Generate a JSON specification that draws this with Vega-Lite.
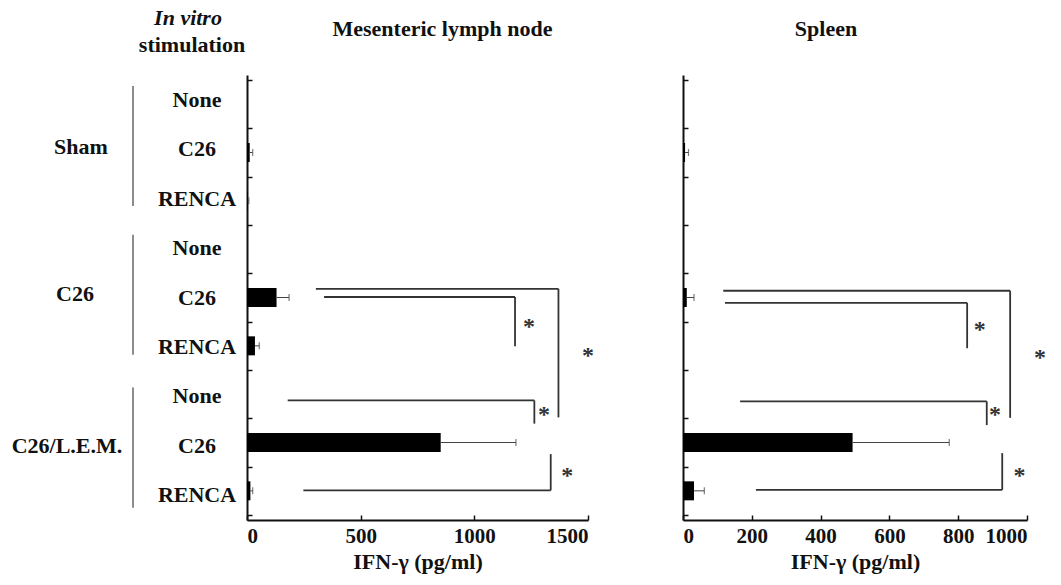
{
  "$schema": "https://vega.github.io/schema/vega-lite/v6.json",
  "padding": {"left": 0, "top": 7, "right": 5, "bottom": 5},
  "background": "white",
  "spacing": 95,
  "bounds": "flush",
  "config": {
    "view": {"stroke": null},
    "font": "Liberation Serif",
    "axis": {
      "domainColor": "#111", "domainWidth": 2, "tickColor": "#111", "tickWidth": 1.5, "tickSize": -5,
      "grid": false, "labelFont": "Liberation Serif", "labelFontWeight": "bold", "labelFontSize": 21,
      "labelColor": "#111", "titleFont": "Liberation Serif", "titleFontWeight": "bold", "titleFontSize": 22, "titleColor": "#111"
    }
  },
  "datasets": {
    "labels": [
      {"kind": "head_i", "label": "In vitro", "pos": 188, "row": -1.15},
      {"kind": "head", "label": "stimulation", "pos": 192, "row": -0.6},
      {"kind": "group", "label": "Sham", "pos": 81, "row": 1.45},
      {"kind": "group", "label": "C26", "pos": 75, "row": 4.42},
      {"kind": "group", "label": "C26/L.E.M.", "pos": 67, "row": 7.5},
      {"kind": "stim", "label": "None", "pos": 197, "row": 0.5},
      {"kind": "stim", "label": "C26", "pos": 197, "row": 1.5},
      {"kind": "stim", "label": "RENCA", "pos": 197, "row": 2.5},
      {"kind": "stim", "label": "None", "pos": 197, "row": 3.5},
      {"kind": "stim", "label": "C26", "pos": 197, "row": 4.5},
      {"kind": "stim", "label": "RENCA", "pos": 197, "row": 5.5},
      {"kind": "stim", "label": "None", "pos": 197, "row": 6.5},
      {"kind": "stim", "label": "C26", "pos": 197, "row": 7.5},
      {"kind": "stim", "label": "RENCA", "pos": 197, "row": 8.5}
    ],
    "dividers": [
      {"group": "Sham", "pos": 133, "row": 0.22, "row2": 2.65},
      {"group": "C26", "pos": 133, "row": 3.23, "row2": 5.66},
      {"group": "C26/L.E.M.", "pos": 133, "row": 6.32, "row2": 8.75}
    ],
    "bars": [
      {"organ": "MLN", "group": "Sham", "stim": "None", "y": 0.5, "value": 0, "err": 0},
      {"organ": "MLN", "group": "Sham", "stim": "C26", "y": 1.5, "value": 12, "err": 25},
      {"organ": "MLN", "group": "Sham", "stim": "RENCA", "y": 2.5, "value": 3, "err": 8},
      {"organ": "MLN", "group": "C26", "stim": "None", "y": 3.5, "value": 0, "err": 0},
      {"organ": "MLN", "group": "C26", "stim": "C26", "y": 4.5, "value": 130, "err": 185},
      {"organ": "MLN", "group": "C26", "stim": "RENCA", "y": 5.5, "value": 35, "err": 54},
      {"organ": "MLN", "group": "C26/L.E.M.", "stim": "None", "y": 6.5, "value": 0, "err": 0},
      {"organ": "MLN", "group": "C26/L.E.M.", "stim": "C26", "y": 7.5, "value": 852, "err": 1183},
      {"organ": "MLN", "group": "C26/L.E.M.", "stim": "RENCA", "y": 8.5, "value": 15, "err": 25},
      {"organ": "Spleen", "group": "Sham", "stim": "None", "y": 0.5, "value": 0, "err": 0},
      {"organ": "Spleen", "group": "Sham", "stim": "C26", "y": 1.5, "value": 6, "err": 16},
      {"organ": "Spleen", "group": "Sham", "stim": "RENCA", "y": 2.5, "value": 0, "err": 0},
      {"organ": "Spleen", "group": "C26", "stim": "None", "y": 3.5, "value": 0, "err": 0},
      {"organ": "Spleen", "group": "C26", "stim": "C26", "y": 4.5, "value": 11, "err": 32},
      {"organ": "Spleen", "group": "C26", "stim": "RENCA", "y": 5.5, "value": 0, "err": 0},
      {"organ": "Spleen", "group": "C26/L.E.M.", "stim": "None", "y": 6.5, "value": 0, "err": 0},
      {"organ": "Spleen", "group": "C26/L.E.M.", "stim": "C26", "y": 7.5, "value": 493, "err": 774},
      {"organ": "Spleen", "group": "C26/L.E.M.", "stim": "RENCA", "y": 8.5, "value": 32, "err": 62}
    ],
    "brackets": [
      {"organ": "MLN", "x": 303, "x2": 1370, "y": 4.32, "y2": 4.32},
      {"organ": "MLN", "x": 1370, "x2": 1370, "y": 4.32, "y2": 6.98},
      {"organ": "MLN", "x": 339, "x2": 1179, "y": 4.49, "y2": 4.49},
      {"organ": "MLN", "x": 1179, "x2": 1179, "y": 4.49, "y2": 5.51},
      {"organ": "MLN", "x": 179, "x2": 1264, "y": 6.63, "y2": 6.63},
      {"organ": "MLN", "x": 1264, "x2": 1264, "y": 6.63, "y2": 7.11},
      {"organ": "MLN", "x": 1336, "x2": 1336, "y": 7.74, "y2": 8.49},
      {"organ": "MLN", "x": 248, "x2": 1336, "y": 8.49, "y2": 8.49},
      {"organ": "Spleen", "x": 117, "x2": 951, "y": 4.36, "y2": 4.36},
      {"organ": "Spleen", "x": 951, "x2": 951, "y": 4.36, "y2": 6.99},
      {"organ": "Spleen", "x": 122, "x2": 826, "y": 4.61, "y2": 4.61},
      {"organ": "Spleen", "x": 826, "x2": 826, "y": 4.61, "y2": 5.55},
      {"organ": "Spleen", "x": 166, "x2": 883, "y": 6.65, "y2": 6.65},
      {"organ": "Spleen", "x": 883, "x2": 883, "y": 6.65, "y2": 7.14},
      {"organ": "Spleen", "x": 928, "x2": 928, "y": 7.72, "y2": 8.48},
      {"organ": "Spleen", "x": 212, "x2": 928, "y": 8.48, "y2": 8.48}
    ],
    "stars": [
      {"organ": "MLN", "x": 1500, "y": 5.62, "label": "*"},
      {"organ": "MLN", "x": 1241, "y": 5.03, "label": "*"},
      {"organ": "MLN", "x": 1307, "y": 6.84, "label": "*"},
      {"organ": "MLN", "x": 1409, "y": 8.1, "label": "*"},
      {"organ": "Spleen", "x": 1038, "y": 5.67, "label": "*"},
      {"organ": "Spleen", "x": 863, "y": 5.08, "label": "*"},
      {"organ": "Spleen", "x": 907, "y": 6.85, "label": "*"},
      {"organ": "Spleen", "x": 978, "y": 8.11, "label": "*"}
    ]
  },
  "hconcat": [
    {
      "width": 152,
      "height": 445,
      "layer": [
        {
          "data": {"name": "labels"},
          "transform": [{"filter": "datum.kind !== 'head_i'"}],
          "mark": {"type": "text", "font": "Liberation Serif", "fontWeight": "bold", "fontSize": 22, "align": "center", "baseline": "middle", "color": "#111"},
          "encoding": {
            "x": {"field": "pos", "type": "quantitative", "scale": {"domain": [0, 152], "nice": false, "zero": false}, "axis": null},
            "y": {"field": "row", "type": "quantitative", "scale": {"domain": [0, 9], "reverse": true, "nice": false, "zero": false}, "axis": null},
            "text": {"field": "label"}
          }
        },
        {
          "data": {"name": "labels"},
          "transform": [{"filter": "datum.kind === 'head_i'"}],
          "mark": {"type": "text", "font": "Liberation Serif", "fontWeight": "bold", "fontStyle": "italic", "fontSize": 22, "align": "center", "baseline": "middle", "color": "#111"},
          "encoding": {
            "x": {"field": "pos", "type": "quantitative"},
            "y": {"field": "row", "type": "quantitative"},
            "text": {"field": "label"}
          }
        },
        {
          "data": {"name": "dividers"},
          "mark": {"type": "rule", "color": "#666", "strokeWidth": 1.5},
          "encoding": {
            "x": {"field": "pos", "type": "quantitative"},
            "y": {"field": "row", "type": "quantitative"},
            "y2": {"field": "row2"}
          }
        }
      ]
    },
    {
      "width": 341,
      "height": 445,
      "title": {"text": "Mesenteric lymph node", "font": "Liberation Serif", "fontSize": 22, "fontWeight": "bold", "anchor": "middle", "frame": "group", "dx": 25, "offset": 12, "baseline": "bottom", "color": "#111"},
      "layer": [
        {
          "data": {"name": "bars"},
          "transform": [{"filter": "datum.organ === 'MLN'"}],
          "mark": {"type": "bar", "orient": "horizontal", "size": 19, "color": "#000"},
          "encoding": {
            "x": {"field": "value", "type": "quantitative", "scale": {"domain": [0, 1500], "nice": false}, "axis": {"values": [0, 500, 1000, 1500], "format": "d", "title": "IFN-γ (pg/ml)", "labelPadding": 10, "titlePadding": 5}},
            "y": {"field": "y", "type": "quantitative", "scale": {"domain": [0, 9], "reverse": true, "nice": false, "zero": false}, "axis": {"values": [0, 1, 2, 3, 4, 5, 6, 7, 8, 9], "labels": false, "title": null}}
          }
        },
        {
          "data": {"name": "bars"},
          "transform": [{"filter": "datum.organ === 'MLN' && datum.err > datum.value"}],
          "mark": {"type": "rule", "color": "#444", "strokeWidth": 1},
          "encoding": {
            "x": {"field": "value", "type": "quantitative"},
            "x2": {"field": "err"},
            "y": {"field": "y", "type": "quantitative"}
          }
        },
        {
          "data": {"name": "bars"},
          "transform": [{"filter": "datum.organ === 'MLN' && datum.err > datum.value"}],
          "mark": {"type": "tick", "orient": "vertical", "size": 7, "thickness": 1.2, "color": "#444"},
          "encoding": {
            "x": {"field": "err", "type": "quantitative"},
            "y": {"field": "y", "type": "quantitative"}
          }
        },
        {
          "data": {"name": "brackets"},
          "transform": [{"filter": "datum.organ === 'MLN'"}],
          "mark": {"type": "rule", "color": "#333", "strokeWidth": 1.8},
          "encoding": {
            "x": {"field": "x", "type": "quantitative"},
            "x2": {"field": "x2"},
            "y": {"field": "y", "type": "quantitative"},
            "y2": {"field": "y2"}
          }
        },
        {
          "data": {"name": "stars"},
          "transform": [{"filter": "datum.organ === 'MLN'"}],
          "mark": {"type": "text", "font": "Liberation Serif", "fontSize": 24, "fontWeight": "bold", "align": "center", "baseline": "middle", "dy": 4, "color": "#333"},
          "encoding": {
            "x": {"field": "x", "type": "quantitative"},
            "y": {"field": "y", "type": "quantitative"},
            "text": {"field": "label"}
          }
        }
      ]
    },
    {
      "width": 344,
      "height": 445,
      "title": {"text": "Spleen", "font": "Liberation Serif", "fontSize": 22, "fontWeight": "bold", "anchor": "middle", "frame": "group", "dx": -29, "offset": 12, "baseline": "bottom", "color": "#111"},
      "layer": [
        {
          "data": {"name": "bars"},
          "transform": [{"filter": "datum.organ === 'Spleen'"}],
          "mark": {"type": "bar", "orient": "horizontal", "size": 19, "color": "#000"},
          "encoding": {
            "x": {"field": "value", "type": "quantitative", "scale": {"domain": [0, 1000], "nice": false}, "axis": {"values": [0, 200, 400, 600, 800, 1000], "format": "d", "title": "IFN-γ (pg/ml)", "labelPadding": 10, "titlePadding": 5}},
            "y": {"field": "y", "type": "quantitative", "scale": {"domain": [0, 9], "reverse": true, "nice": false, "zero": false}, "axis": {"values": [0, 1, 2, 3, 4, 5, 6, 7, 8, 9], "labels": false, "title": null}}
          }
        },
        {
          "data": {"name": "bars"},
          "transform": [{"filter": "datum.organ === 'Spleen' && datum.err > datum.value"}],
          "mark": {"type": "rule", "color": "#444", "strokeWidth": 1},
          "encoding": {
            "x": {"field": "value", "type": "quantitative"},
            "x2": {"field": "err"},
            "y": {"field": "y", "type": "quantitative"}
          }
        },
        {
          "data": {"name": "bars"},
          "transform": [{"filter": "datum.organ === 'Spleen' && datum.err > datum.value"}],
          "mark": {"type": "tick", "orient": "vertical", "size": 7, "thickness": 1.2, "color": "#444"},
          "encoding": {
            "x": {"field": "err", "type": "quantitative"},
            "y": {"field": "y", "type": "quantitative"}
          }
        },
        {
          "data": {"name": "brackets"},
          "transform": [{"filter": "datum.organ === 'Spleen'"}],
          "mark": {"type": "rule", "color": "#333", "strokeWidth": 1.8},
          "encoding": {
            "x": {"field": "x", "type": "quantitative"},
            "x2": {"field": "x2"},
            "y": {"field": "y", "type": "quantitative"},
            "y2": {"field": "y2"}
          }
        },
        {
          "data": {"name": "stars"},
          "transform": [{"filter": "datum.organ === 'Spleen'"}],
          "mark": {"type": "text", "font": "Liberation Serif", "fontSize": 24, "fontWeight": "bold", "align": "center", "baseline": "middle", "dy": 4, "color": "#333"},
          "encoding": {
            "x": {"field": "x", "type": "quantitative"},
            "y": {"field": "y", "type": "quantitative"},
            "text": {"field": "label"}
          }
        }
      ]
    }
  ]
}
